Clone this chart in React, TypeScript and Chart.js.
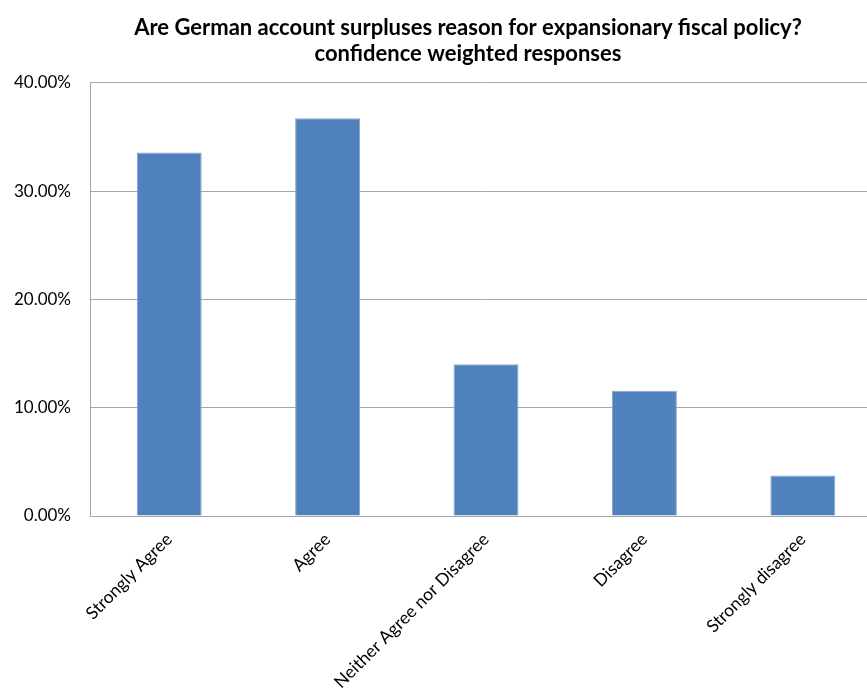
import React, { useEffect, useRef } from "react";
import { Chart, registerables } from "chart.js";

Chart.register(...registerables);

const categories: string[] = [
  "Strongly Agree",
  "Agree",
  "Neither Agree nor Disagree",
  "Disagree",
  "Strongly disagree",
];
const responseShares: number[] = [33.58, 36.73, 14.02, 11.56, 3.73];
const titleLines: string[] = [
  "Are German account surpluses reason for expansionary fiscal policy?",
  "confidence weighted responses",
];
const yMin = 0;
const yMax = 40;
const yStep = 10;

export default function App() {
  const canvasRef = useRef<HTMLCanvasElement | null>(null);

  useEffect(() => {
    if (!canvasRef.current) return;
    const chart = new Chart(canvasRef.current, {
      type: "bar",
      data: {
        labels: categories,
        datasets: [
          {
            label: "Share",
            data: responseShares,
            backgroundColor: "#4f81bd",
            borderColor: "#86a6d2",
            borderWidth: 1,
            barPercentage: 0.41,
            categoryPercentage: 1,
            yAxisID: "y",
          },
        ],
      },
      options: {
        responsive: false,
        animation: false,
        layout: { padding: 0 },
        plugins: {
          legend: { display: false },
          tooltip: { enabled: false },
          title: {
            display: true,
            text: titleLines,
            color: "#000",
            font: { family: "Lato", size: 22, weight: "bold", lineHeight: 1.18 },
            padding: { top: 15, bottom: 16 },
          },
        },
        scales: {
          x: {
            grid: { display: false, drawTicks: false },
            border: { display: true, color: "#a6a6a6", width: 1 },
            ticks: {
              color: "#000",
              font: { family: "Lato", size: 17.5 },
              minRotation: 45,
              maxRotation: 45,
              padding: 13,
              autoSkip: false,
            },
            afterFit: (scale: any) => {
              scale.height = 179;
            },
          },
          y: {
            min: yMin,
            max: yMax,
            grid: { color: "#a6a6a6", lineWidth: 1, drawTicks: false },
            border: { display: true, color: "#a6a6a6", width: 1 },
            ticks: {
              stepSize: yStep,
              color: "#000",
              padding: 19,
              font: { family: "Lato", size: 17 },
              callback: (v: any) => Number(v).toFixed(2) + "%",
            },
            afterFit: (scale: any) => {
              scale.width = 90;
            },
          },
          yRightSpace: {
            position: "right",
            min: yMin,
            max: yMax,
            grid: { display: false, drawTicks: false },
            border: { display: false },
            ticks: { display: false },
            afterFit: (scale: any) => {
              scale.width = 54;
            },
          },
        },
      },
    });
    return () => chart.destroy();
  }, []);

  return (
    <div
      style={{
        position: "fixed",
        left: 0,
        top: 0,
        width: 867,
        height: 695,
        overflow: "hidden",
        background: "#fff",
      }}
    >
      <canvas ref={canvasRef} width={936} height={695} style={{ display: "block" }} />
    </div>
  );
}
